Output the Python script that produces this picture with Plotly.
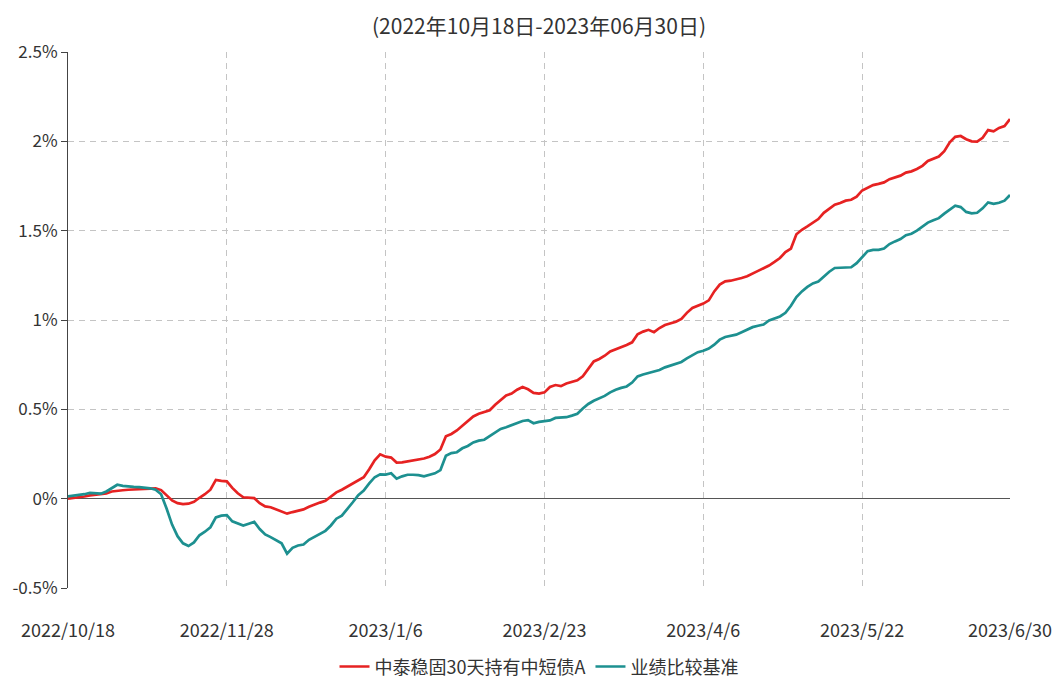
import pandas as pd
import plotly.graph_objects as go

# ---- data -------------------------------------------------------------
title_text = "(2022年10月18日-2023年06月30日)"
fund_name = "中泰稳固30天持有中短债A"
bench_name = "业绩比较基准"

holidays = ["2023-01-02", "2023-01-23", "2023-01-24", "2023-01-25", "2023-01-26",
            "2023-01-27", "2023-04-05", "2023-05-01", "2023-05-02", "2023-05-03",
            "2023-06-22", "2023-06-23"]
extra_days = ["2022-12-31"]
days = pd.bdate_range("2022-10-18", "2023-06-30")
days = days[~days.isin(pd.to_datetime(holidays))].union(pd.to_datetime(extra_days))
dates = [f"{d.year}/{d.month}/{d.day}" for d in days]

tick_labels = ["2022/10/18", "2022/11/28", "2023/1/6", "2023/2/23",
               "2023/4/6", "2023/5/22", "2023/6/30"]
y_tick_vals = [-0.5, 0, 0.5, 1, 1.5, 2, 2.5]
y_tick_text = ["-0.5%", "0%", "0.5%", "1%", "1.5%", "2%", "2.5%"]

fund_returns = [
    0.000, 0.003, 0.008, 0.012, 0.018, 0.022, 0.025, 0.030, 0.040, 0.045,
    0.047, 0.050, 0.052, 0.055, 0.057, 0.060, 0.058, 0.048, 0.020, -0.010,
    -0.025, -0.030, -0.028, -0.018, 0.005, 0.025, 0.050, 0.105, 0.100, 0.097,
    0.060, 0.030, 0.008, 0.005, 0.003, -0.025, -0.043, -0.048, -0.060, -0.072,
    -0.084, -0.075, -0.068, -0.060, -0.045, -0.032, -0.022, -0.012, 0.010, 0.035,
    0.050, 0.068, 0.085, 0.105, 0.120, 0.165, 0.215, 0.248, 0.235, 0.230,
    0.202, 0.203, 0.209, 0.215, 0.218, 0.225, 0.235, 0.250, 0.275, 0.349,
    0.362, 0.382, 0.408, 0.432, 0.460, 0.475, 0.485, 0.495, 0.526, 0.550,
    0.578, 0.588, 0.610, 0.625, 0.612, 0.592, 0.588, 0.595, 0.625, 0.636,
    0.630, 0.645, 0.655, 0.662, 0.685, 0.730, 0.768, 0.782, 0.800, 0.824,
    0.835, 0.845, 0.860, 0.875, 0.920, 0.935, 0.945, 0.932, 0.955, 0.972,
    0.980, 0.990, 1.006, 1.040, 1.067, 1.080, 1.092, 1.110, 1.160, 1.198,
    1.216, 1.220, 1.226, 1.235, 1.245, 1.262, 1.275, 1.290, 1.305, 1.325,
    1.347, 1.380, 1.400, 1.480, 1.505, 1.524, 1.545, 1.565, 1.600, 1.625,
    1.645, 1.655, 1.668, 1.673, 1.690, 1.725, 1.740, 1.755, 1.762, 1.770,
    1.788, 1.798, 1.808, 1.825, 1.832, 1.845, 1.863, 1.890, 1.903, 1.915,
    1.945, 1.995, 2.025, 2.030, 2.012, 2.000, 1.998, 2.020, 2.063, 2.056,
    2.075, 2.085, 2.125]

benchmark_returns = [
    0.013, 0.016, 0.020, 0.025, 0.032, 0.030, 0.028, 0.040, 0.060, 0.078,
    0.072, 0.068, 0.066, 0.065, 0.062, 0.058, 0.050, 0.025, -0.055, -0.145,
    -0.210, -0.250, -0.265, -0.245, -0.205, -0.185, -0.160, -0.105, -0.095, -0.092,
    -0.127, -0.140, -0.150, -0.140, -0.130, -0.170, -0.200, -0.215, -0.235, -0.250,
    -0.308, -0.275, -0.262, -0.257, -0.230, -0.212, -0.195, -0.180, -0.150, -0.112,
    -0.095, -0.060, -0.020, 0.020, 0.045, 0.085, 0.120, 0.136, 0.135, 0.142,
    0.112, 0.125, 0.134, 0.134, 0.132, 0.125, 0.135, 0.142, 0.160, 0.240,
    0.255, 0.260, 0.282, 0.295, 0.315, 0.325, 0.330, 0.350, 0.368, 0.390,
    0.400, 0.412, 0.425, 0.435, 0.440, 0.422, 0.430, 0.435, 0.438, 0.452,
    0.452, 0.456, 0.465, 0.475, 0.505, 0.530, 0.548, 0.560, 0.575, 0.595,
    0.610, 0.620, 0.628, 0.650, 0.684, 0.695, 0.703, 0.710, 0.720, 0.735,
    0.745, 0.755, 0.765, 0.785, 0.805, 0.820, 0.828, 0.840, 0.862, 0.890,
    0.905, 0.910, 0.918, 0.932, 0.945, 0.960, 0.968, 0.975, 0.998, 1.010,
    1.020, 1.040, 1.080, 1.128, 1.160, 1.185, 1.205, 1.215, 1.245, 1.270,
    1.291, 1.291, 1.292, 1.295, 1.318, 1.350, 1.385, 1.392, 1.393, 1.400,
    1.425, 1.440, 1.453, 1.475, 1.483, 1.500, 1.524, 1.545, 1.558, 1.570,
    1.595, 1.618, 1.640, 1.632, 1.605, 1.597, 1.600, 1.625, 1.658, 1.650,
    1.656, 1.668, 1.700]

n = min(len(dates), len(fund_returns), len(benchmark_returns))
dates = dates[:n]
fund_returns = fund_returns[:n]
benchmark_returns = benchmark_returns[:n]
tick_idx = [dates.index(t) for t in tick_labels if t in dates]

# ---- figure -----------------------------------------------------------
FONT = "Noto Sans CJK SC, Noto Sans, sans-serif"
RED = "#e62222"
TEAL = "#1d9090"
GRID = "#c4c4c4"

fig = go.Figure()
fig.add_trace(go.Scatter(x=dates, y=fund_returns, mode="lines", name=fund_name,
                         line=dict(color=RED, width=2.7)))
fig.add_trace(go.Scatter(x=dates, y=benchmark_returns, mode="lines", name=bench_name,
                         line=dict(color=TEAL, width=2.7)))

fig.update_layout(
    width=1057, height=682, autosize=False,
    margin=dict(l=68, r=47, t=52, b=94, autoexpand=False),
    paper_bgcolor="white", plot_bgcolor="white",
    font=dict(family=FONT, size=18, color="#333333"),
    title=dict(text=title_text, x=0.5, xref="paper", xanchor="center",
               y=1 - 27 / 682, yref="container", yanchor="middle", automargin=False,
               font=dict(family=FONT, size=21, color="#333333")),
    showlegend=True,
    legend=dict(orientation="h", x=0.5, xanchor="center", y=-0.147, yanchor="middle",
                font=dict(family=FONT, size=18, color="#333333"),
                itemwidth=30, tracegroupgap=0),
    xaxis=dict(
        type="category", range=[0, n - 1], automargin=False,
        tickmode="array", tickvals=tick_labels, ticktext=tick_labels,
        showgrid=True, gridcolor=GRID, griddash="6px,5px", gridwidth=1,
        ticks="outside", ticklen=26, tickcolor="rgba(0,0,0,0)",
        showline=False, zeroline=False,
        tickfont=dict(family=FONT, size=18, color="#333333"),
    ),
    xaxis2=dict(
        overlaying="x", anchor="free", position=1 / 6, type="linear",
        range=[0, n - 1], tickmode="array", tickvals=tick_idx, automargin=False,
        showticklabels=False, ticks="outside", ticklen=4, tickcolor="#555555",
        showline=False, showgrid=False, zeroline=False,
    ),
    yaxis=dict(
        range=[-0.5, 2.5], tickmode="array", tickvals=y_tick_vals, ticktext=y_tick_text,
        automargin=False,
        showgrid=True, gridcolor=GRID, griddash="6px,5px", gridwidth=1,
        zeroline=True, zerolinecolor="#555555", zerolinewidth=1,
        showline=True, linecolor="#444444", linewidth=1,
        ticks="outside", ticklen=6, tickcolor="#444444",
        tickfont=dict(family=FONT, size=17, color="#333333"),
    ),
)

fig.write_html("out.html", config={"displayModeBar": False},
               post_script="document.body.style.margin='0';document.body.style.overflow='hidden';")
